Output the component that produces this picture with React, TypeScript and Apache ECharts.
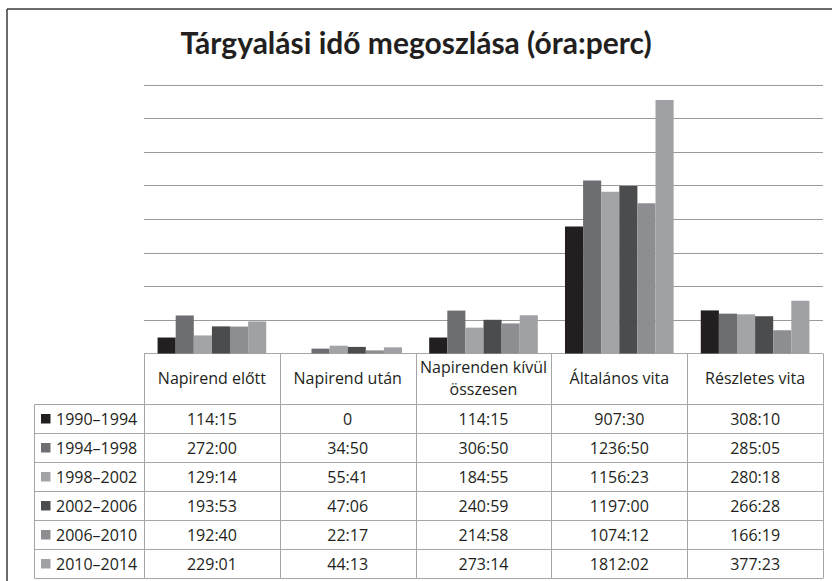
import React, { useEffect, useRef } from "react";
import * as echarts from "echarts";

const titleText = "Tárgyalási idő megoszlása (óra:perc)";
const categories = ["Napirend előtt", "Napirend után", "Napirenden kívül\nösszesen", "Általános vita", "Részletes vita"];
const periods = ["1990–1994", "1994–1998", "1998–2002", "2002–2006", "2006–2010", "2010–2014"];
const v1990 = ["114:15", "0", "114:15", "907:30", "308:10"];
const v1994 = ["272:00", "34:50", "306:50", "1236:50", "285:05"];
const v1998 = ["129:14", "55:41", "184:55", "1156:23", "280:18"];
const v2002 = ["193:53", "47:06", "240:59", "1197:00", "266:28"];
const v2006 = ["192:40", "22:17", "214:58", "1074:12", "166:19"];
const v2010 = ["229:01", "44:13", "273:14", "1812:02", "377:23"];
const seriesValues = [v1990, v1994, v1998, v2002, v2006, v2010];
const yMax = 1920;
const yInterval = 240;

const palette = ["#231f20", "#6d6e71", "#a3a4a7", "#4b4c4e", "#8d8e91", "#a0a1a4"];

function toHours(s: string): number {
  const [h, m] = s.split(":");
  return Number(h) + (m ? Number(m) / 60 : 0);
}

const TITLE_FONT = "Lato, 'Open Sans', sans-serif";
const FONT = "'Open Sans', Lato, sans-serif";

export default function App() {
  const ref = useRef<HTMLDivElement>(null);
  useEffect(() => {
    if (!ref.current) return;
    const chart = echarts.init(ref.current, undefined, { renderer: "svg" });
    const gridLeft = 144;
    const gridRight = 823;
    const gridTop = 85;
    const gridBottom = 353.5;
    const W = 832;
    const H = 581;
    chart.setOption({
      animation: false,
      title: {
        text: titleText,
        left: "center",
        top: 22,
        textStyle: { fontFamily: TITLE_FONT, fontWeight: "bold", fontSize: 30, color: "#231f20" },
      },
      grid: { left: gridLeft, right: W - gridRight, top: gridTop, bottom: H - gridBottom },
      xAxis: {
        type: "category",
        data: categories,
        axisLine: { show: false },
        axisTick: { show: false },
        axisLabel: { show: false },
      },
      yAxis: {
        type: "value",
        min: 0,
        max: yMax,
        interval: yInterval,
        axisLabel: { show: false },
        axisLine: { show: false },
        axisTick: { show: false },
        splitLine: { lineStyle: { color: "#9a9a9a", width: 1 } },
      },
      series: periods.map((p, i) => ({
        name: p,
        type: "bar",
        data: seriesValues[i].map(toHours),
        barGap: "0%",
        barCategoryGap: "20%",
        itemStyle: { color: palette[i] },
      })),
    });

    const colW = (gridRight - gridLeft) / categories.length;
    const headerTop = 353.5;
    const headerBottom = 404.5;
    const rowH = 29;
    const tableLeft = 34.5;
    const tableBottom = headerBottom + rowH * periods.length;
    const lineStyle = { stroke: "#a6a6a6", lineWidth: 1 };
    const els: any[] = [];
    els.push({ type: "line", shape: { x1: 7, y1: 9, x2: 7, y2: H }, style: { stroke: "#3a3a3a", lineWidth: 1.5 } });
    els.push({ type: "line", shape: { x1: 7, y1: 9, x2: W, y2: 9 }, style: { stroke: "#3a3a3a", lineWidth: 1.5 } });
    els.push({ type: "line", shape: { x1: gridLeft, y1: headerTop, x2: gridRight, y2: headerTop }, style: lineStyle });
    for (let r = 0; r <= periods.length; r++) {
      const y = headerBottom + r * rowH;
      els.push({ type: "line", shape: { x1: tableLeft, y1: y, x2: gridRight, y2: y }, style: lineStyle });
    }
    els.push({ type: "line", shape: { x1: tableLeft, y1: headerBottom, x2: tableLeft, y2: tableBottom }, style: lineStyle });
    for (let c = 0; c <= categories.length; c++) {
      const x = Math.round(gridLeft + c * colW) + 0.5;
      els.push({ type: "line", shape: { x1: x, y1: headerTop, x2: x, y2: tableBottom }, style: lineStyle });
    }
    categories.forEach((cat, c) => {
      els.push({
        type: "text",
        x: gridLeft + (c + 0.5) * colW,
        y: (headerTop + headerBottom) / 2 - 1,
        style: {
          text: cat,
          fill: "#231f20",
          font: `16px ${FONT}`,
          align: "center",
          verticalAlign: "middle",
          lineHeight: 22,
        },
      });
    });
    periods.forEach((p, r) => {
      const cy = headerBottom + (r + 0.5) * rowH;
      els.push({ type: "rect", shape: { x: 41, y: cy - 5, width: 9.5, height: 9.5 }, style: { fill: palette[r] } });
      els.push({
        type: "text",
        x: 56,
        y: cy,
        style: { text: p, fill: "#231f20", font: `16px ${FONT}`, align: "left", verticalAlign: "middle" },
      });
      seriesValues[r].forEach((v, c) => {
        els.push({
          type: "text",
          x: gridLeft + (c + 0.5) * colW,
          y: cy,
          style: { text: v, fill: "#231f20", font: `16px ${FONT}`, align: "center", verticalAlign: "middle" },
        });
      });
    });
    chart.setOption({ graphic: { elements: els } });
    return () => chart.dispose();
  }, []);
  return (
    <div
      ref={ref}
      style={{ position: "fixed", left: 0, top: 0, width: 832, height: 581, background: "#fff" }}
    />
  );
}
